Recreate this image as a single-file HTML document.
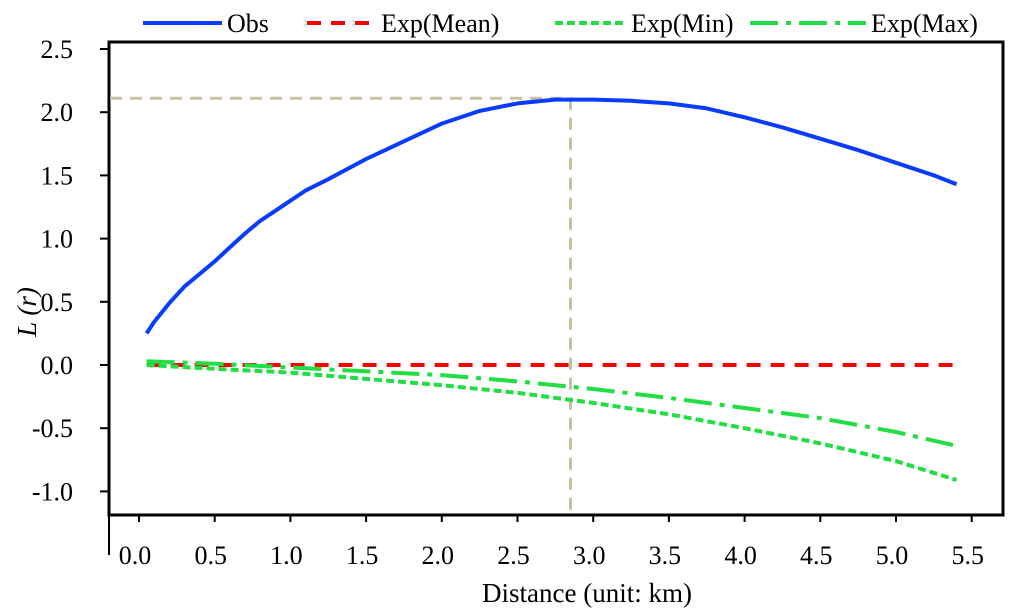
<!DOCTYPE html>
<html><head><meta charset="utf-8"><style>
body{margin:0;background:#fff}
svg{display:block}
text{font-family:"Liberation Serif","Times New Roman",serif}
</style></head><body>
<svg width="1024" height="615" id="c" font-family="Liberation Serif, serif">
<g id="g"></g>
</svg>
<script>
const obsX=[0.05,0.1,0.2,0.3,0.4,0.5,0.6,0.7,0.8,0.9,1.0,1.1,1.25,1.5,1.75,2.0,2.25,2.5,2.75,3.0,3.25,3.5,3.75,4.0,4.25,4.5,4.75,5.0,5.25,5.4];
const obsY=[0.25,0.34,0.49,0.62,0.72,0.82,0.93,1.04,1.14,1.22,1.30,1.38,1.47,1.63,1.77,1.91,2.01,2.07,2.10,2.10,2.09,2.07,2.03,1.96,1.88,1.79,1.70,1.60,1.50,1.43];
const expX=[0.05,0.5,1.0,1.5,2.0,2.5,3.0,3.5,4.0,4.5,5.0,5.4];
const meanY=[0,0,0,0,0,0,0,0,0,0,0,0];
const minY=[0.0,-0.03,-0.06,-0.11,-0.16,-0.22,-0.30,-0.39,-0.50,-0.62,-0.76,-0.91];
const maxY=[0.03,0.01,-0.02,-0.05,-0.08,-0.13,-0.19,-0.26,-0.34,-0.42,-0.53,-0.64];
const xTicks=["0.0","0.5","1.0","1.5","2.0","2.5","3.0","3.5","4.0","4.5","5.0","5.5"];
const yTicks=["2.5","2.0","1.5","1.0","0.5","0.0","-0.5","-1.0"];
const peak=[2.85,2.11];
const sx=v=>139+v*151.4, sy=v=>365-v*126.4;
const g=document.getElementById('g'),NS="http://www.w3.org/2000/svg";
function mk(t,a,txt){const e=document.createElementNS(NS,t);for(const k in a)e.setAttribute(k,a[k]);if(t==='text')e.setAttribute('font-family','Liberation Serif, serif');if(txt!=null)e.textContent=txt;g.appendChild(e);return e;}
const pts=(xs,ys)=>xs.map((x,i)=>sx(x).toFixed(1)+","+sy(ys[i]).toFixed(1)).join(" ");
let e;
e=mk('rect',{x:109,y:42,width:894,height:473,fill:'none',stroke:'#000','stroke-width':3});

e=mk('line',{x1:109,y1:515,x2:109,y2:555,stroke:'#000','stroke-width':2});

xTicks.forEach(t=>{const x=sx(+t);
 e=mk('line',{x1:x,y1:515,x2:x,y2:522,stroke:'#000','stroke-width':2});
 
 e=mk('text',{x:x-4,y:564,'font-size':26,'text-anchor':'middle'},t);
 });
yTicks.forEach(t=>{const y=sy(+t);
 e=mk('line',{x1:100,y1:y,x2:109,y2:y,stroke:'#000','stroke-width':2});
 
 e=mk('text',{x:73,y:y+9,'font-size':26,'text-anchor':'end'},t);
 });
e=mk('polyline',{points:`110,${sy(peak[1])} ${sx(peak[0])},${sy(peak[1])} ${sx(peak[0])},515`,fill:'none',stroke:'#c8bf9f','stroke-width':3,'stroke-dasharray':'12,8'});

e=mk('polyline',{points:pts(expX,meanY),fill:'none',stroke:'#f00','stroke-width':4,'stroke-dasharray':'14,10'});

e=mk('polyline',{points:pts(expX,minY),fill:'none',stroke:'#22dd44','stroke-width':4,'stroke-dasharray':'8,4'});

e=mk('polyline',{points:pts(expX,maxY),fill:'none',stroke:'#22dd44','stroke-width':4,'stroke-dasharray':'28,8,5,8'});

e=mk('polyline',{points:pts(obsX,obsY),fill:'none',stroke:'#0a3cff','stroke-width':4,'stroke-linejoin':'round'});

// legend
e=mk('line',{x1:143,y1:23,x2:222,y2:23,stroke:'#0a3cff','stroke-width':4});

e=mk('text',{x:227,y:32,'font-size':26},'Obs');

e=mk('line',{x1:307,y1:23,x2:377,y2:23,stroke:'#f00','stroke-width':4,'stroke-dasharray':'14,10'});

e=mk('text',{x:381,y:32,'font-size':26},'Exp(Mean)');

e=mk('line',{x1:555,y1:23,x2:627,y2:23,stroke:'#22dd44','stroke-width':4,'stroke-dasharray':'8,4'});

e=mk('text',{x:631,y:32,'font-size':26},'Exp(Min)');

e=mk('line',{x1:750,y1:23,x2:866,y2:23,stroke:'#22dd44','stroke-width':4,'stroke-dasharray':'28,8,5,8'});

e=mk('text',{x:871,y:32,'font-size':26},'Exp(Max)');

e=mk('text',{x:587,y:602,'font-size':27,'text-anchor':'middle'},'Distance (unit: km)');

e=mk('text',{x:0,y:0,'font-size':27,'font-style':'italic','text-anchor':'middle',transform:'translate(36,312) rotate(-90)'},'L (r)');

</script>
</body></html>
